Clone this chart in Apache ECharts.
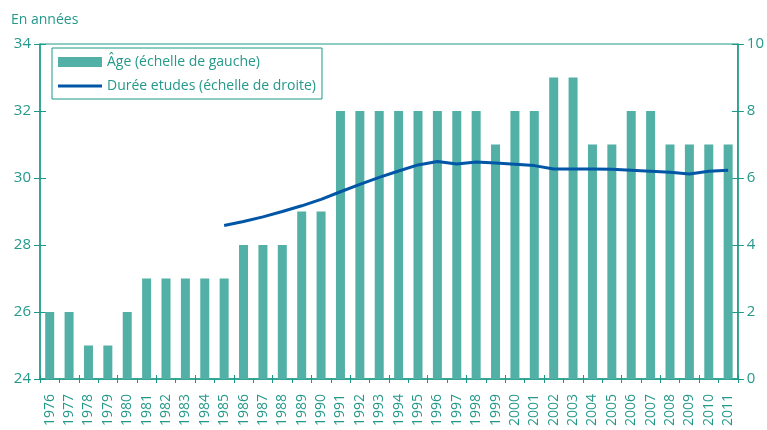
<!DOCTYPE html>
<html>
<head>
<meta charset="utf-8">
<script src="https://cdn.jsdelivr.net/npm/echarts@6/dist/echarts.min.js"></script>
<style>
  html, body { margin: 0; padding: 0; background: #fff; }
  #chart { width: 767px; height: 430px; }
</style>
</head>
<body>
<div id="chart"></div>
<script>
// années
var years = ['1976','1977','1978','1979','1980','1981','1982','1983','1984','1985',
  '1986','1987','1988','1989','1990','1991','1992','1993','1994','1995','1996',
  '1997','1998','1999','2000','2001','2002','2003','2004','2005','2006','2007',
  '2008','2009','2010','2011'];

// âge (échelle de gauche)
var age = [26, 26, 25, 25, 26, 27, 27, 27, 27, 27,
  28, 28, 28, 29, 29, 32, 32, 32, 32, 32, 32,
  32, 32, 31, 32, 32, 33, 33, 31, 31, 32, 32,
  31, 31, 31, 31];

// durée études (échelle de droite), commence en 1985
var duree = [null, null, null, null, null, null, null, null, null, 4.58,
  4.7, 4.84, 5.0, 5.17, 5.36, 5.59, 5.81, 6.02, 6.21, 6.39, 6.49,
  6.42, 6.48, 6.45, 6.41, 6.37, 6.27, 6.27, 6.27, 6.26, 6.23, 6.2,
  6.17, 6.12, 6.2, 6.23];

var leftTicks = [24, 34, 2];
var rightTicks = [0, 10, 2];

var axisColor = '#1a9a86';
var textColor = '#24998a';
var font = 'Open Sans';

var chart = echarts.init(document.getElementById('chart'));

// axe secondaire juste pour les petites graduations intérieures
function innerY(pos, t) {
  return {
    type: 'value', position: pos,
    min: t[0], max: t[1], interval: t[2],
    axisLine: { show: false },
    axisTick: { show: true, inside: true, length: 6, lineStyle: { color: axisColor } },
    axisLabel: { show: false },
    splitLine: { show: false }
  };
}

var option = {
  animation: false,
  textStyle: { fontFamily: font },
  title: {
    text: 'En années',
    left: 6, top: 8,
    textStyle: { color: textColor, fontSize: 14, fontWeight: 'normal', fontFamily: font }
  },
  legend: {
    left: 52, top: 48,
    orient: 'vertical',
    borderColor: axisColor,
    borderWidth: 1,
    padding: [7, 6, 6, 6],
    itemGap: 10,
    itemWidth: 44,
    itemHeight: 10,
    textStyle: { color: textColor, fontSize: 14, fontFamily: font },
    data: [
      { name: 'Âge (échelle de gauche)', icon: 'rect' },
      { name: 'Durée etudes (échelle de droite)', icon: 'path://M0,0 L44,0 L44,3 L0,3 Z' }
    ]
  },
  grid: {
    left: 40, right: 29, top: 44, bottom: 51,
    show: true, borderColor: axisColor, borderWidth: 1
  },
  xAxis: [
    {
      type: 'category',
      data: years,
      axisLine: { lineStyle: { color: axisColor, width: 1.5 } },
      axisTick: { show: true, length: 4, lineStyle: { color: axisColor } },
      axisLabel: { rotate: 90, color: textColor, fontSize: 14, margin: 15, fontFamily: font }
    },
    {
      type: 'category',
      data: years,
      position: 'bottom',
      axisLine: { show: false },
      axisTick: { show: true, inside: true, length: 4, lineStyle: { color: axisColor } },
      axisLabel: { show: false }
    }
  ],
  yAxis: [
    {
      type: 'value',
      min: leftTicks[0], max: leftTicks[1], interval: leftTicks[2],
      axisLine: { show: true, lineStyle: { color: axisColor, width: 1.5 } },
      axisTick: { show: true, length: 6, lineStyle: { color: axisColor } },
      axisLabel: { color: textColor, fontSize: 15, margin: 9, fontFamily: font },
      splitLine: { show: false }
    },
    {
      type: 'value',
      position: 'right',
      min: rightTicks[0], max: rightTicks[1], interval: rightTicks[2],
      axisLine: { show: true, lineStyle: { color: axisColor, width: 1.5 } },
      axisTick: { show: true, length: 6, lineStyle: { color: axisColor } },
      axisLabel: { color: textColor, fontSize: 15, margin: 9, fontFamily: font },
      splitLine: { show: false }
    },
    innerY('right', rightTicks),
    innerY('left', leftTicks)
  ],
  series: [
    {
      name: 'Âge (échelle de gauche)',
      type: 'bar',
      data: age,
      barWidth: 9,
      itemStyle: { color: '#53b0a6' }
    },
    {
      name: 'Durée etudes (échelle de droite)',
      type: 'line',
      yAxisIndex: 1,
      data: duree,
      symbol: 'none',
      lineStyle: { color: '#0056a6', width: 3 },
      itemStyle: { color: '#0056a6' }
    }
  ]
};

chart.setOption(option);
</script>
</body>
</html>
